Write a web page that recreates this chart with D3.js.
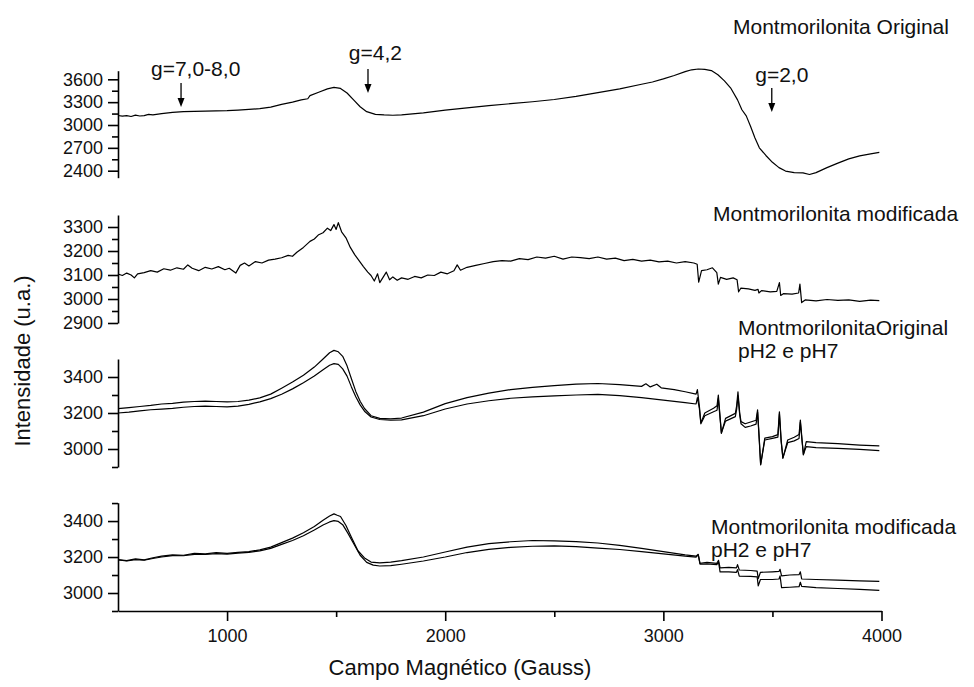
<!DOCTYPE html>
<html>
<head>
<meta charset="utf-8">
<script src="https://cdn.jsdelivr.net/npm/d3@7"></script>
<style>
  body { margin: 0; background: #fff; }
  text { font-family: Arial, "Liberation Sans", sans-serif; fill: #111; }
</style>
</head>
<body>
<div class="chart"></div>
<script>
// field (Gauss) / intensity pairs
const original = [
  [500,3125],[520,3116],[540,3122],[560,3112],[580,3130],[600,3118],[620,3124],[640,3140],[660,3132],
  [700,3150],[750,3165],[800,3175],[850,3180],[900,3182],[950,3185],[1000,3188],[1050,3195],
  [1100,3205],[1150,3215],[1200,3235],[1250,3270],[1300,3300],[1340,3330],[1370,3345],[1380,3385],
  [1420,3430],[1460,3475],[1490,3495],[1520,3480],[1550,3420],[1580,3330],[1610,3240],[1640,3175],
  [1680,3140],[1720,3132],[1760,3128],[1800,3132],[1900,3160],[2000,3195],[2100,3225],[2200,3255],
  [2300,3280],[2400,3305],[2500,3335],[2600,3375],[2700,3425],[2800,3475],[2900,3535],[2950,3565],
  [3000,3605],[3050,3650],[3100,3700],[3130,3725],[3160,3735],[3190,3730],[3220,3715],[3250,3660],
  [3280,3580],[3310,3480],[3340,3330],[3360,3200],[3380,3120],[3400,2980],[3420,2830],[3440,2700],
  [3470,2600],[3500,2510],[3530,2440],[3560,2395],[3600,2375],[3640,2372],[3670,2350],[3700,2375],
  [3750,2440],[3800,2500],[3850,2555],[3900,2595],[3950,2620],[3990,2640]
];

const modificada = [
  [500,3104],[520,3098],[540,3108],[560,3100],[575,3088],[590,3105],[620,3110],[650,3118],[680,3112],
  [710,3126],[740,3120],[770,3130],[800,3124],[820,3142],[840,3128],[870,3118],[900,3132],[930,3125],
  [960,3135],[990,3122],[1010,3128],[1040,3108],[1060,3140],[1080,3150],[1100,3138],[1130,3156],
  [1160,3150],[1190,3162],[1220,3166],[1250,3172],[1280,3182],[1300,3178],[1320,3195],[1350,3215],
  [1380,3240],[1400,3250],[1420,3268],[1440,3276],[1460,3295],[1475,3285],[1490,3310],[1500,3290],
  [1510,3318],[1525,3280],[1545,3255],[1565,3215],[1585,3185],[1605,3160],[1625,3135],[1645,3112],
  [1660,3098],[1675,3075],[1690,3105],[1700,3068],[1715,3090],[1730,3112],[1745,3080],[1760,3092],
  [1780,3078],[1800,3088],[1830,3082],[1860,3094],[1890,3088],[1920,3100],[1950,3098],[1980,3112],
  [2010,3105],[2040,3118],[2055,3142],[2070,3120],[2100,3132],[2140,3140],[2180,3148],[2220,3156],
  [2260,3160],[2300,3158],[2340,3168],[2380,3164],[2420,3175],[2460,3170],[2500,3178],[2540,3166],
  [2580,3175],[2620,3172],[2660,3168],[2700,3175],[2740,3166],[2780,3170],[2820,3160],[2860,3165],
  [2900,3158],[2940,3162],[2980,3155],[3020,3158],[3060,3150],[3100,3156],[3140,3150],[3155,3145],
  [3162,3070],[3175,3118],[3200,3122],[3225,3130],[3245,3110],[3252,3062],[3262,3090],[3290,3082],
  [3320,3088],[3338,3080],[3345,3030],[3355,3045],[3390,3042],[3420,3036],[3434,3040],[3438,3025],
  [3450,3035],[3490,3030],[3520,3032],[3532,3068],[3538,3015],[3550,3022],[3590,3020],[3620,3025],
  [3626,3062],[3634,2985],[3650,2996],[3700,2992],[3750,2998],[3800,2994],[3850,2996],[3900,2990],
  [3950,2995],[3990,2993]
];

const originalPhA = [
  [500,3224],[550,3230],[600,3236],[650,3242],[700,3250],[750,3254],[800,3260],[850,3264],[900,3266],
  [950,3264],[1000,3262],[1050,3264],[1100,3272],[1150,3284],[1200,3305],[1250,3338],[1300,3372],
  [1350,3410],[1400,3455],[1440,3500],[1470,3535],[1490,3548],[1510,3540],[1530,3515],[1550,3462],
  [1570,3390],[1590,3320],[1610,3265],[1630,3225],[1660,3185],[1700,3170],[1750,3168],[1800,3172],
  [1900,3205],[2000,3252],[2100,3285],[2200,3310],[2300,3330],[2400,3342],[2500,3352],[2600,3360],
  [2700,3364],[2800,3358],[2900,3348],[2920,3362],[2940,3345],[2970,3360],[2990,3340],[3050,3330],
  [3100,3318],[3150,3305],[3156,3330],[3165,3240],[3172,3145],[3190,3200],[3230,3226],[3246,3240],
  [3252,3300],[3260,3180],[3266,3087],[3285,3170],[3330,3198],[3336,3240],[3342,3318],[3350,3200],
  [3356,3152],[3375,3140],[3400,3150],[3425,3160],[3432,3217],[3440,3050],[3446,2911],[3465,3060],
  [3500,3069],[3525,3080],[3532,3207],[3540,3050],[3548,2948],[3570,3050],[3600,3065],[3622,3080],
  [3628,3161],[3636,3050],[3642,2967],[3655,3041],[3700,3035],[3800,3030],[3900,3022],[3990,3017]
];

const originalPhB = [
  [500,3200],[550,3205],[600,3212],[650,3218],[700,3222],[750,3226],[800,3232],[850,3236],[900,3238],
  [950,3236],[1000,3234],[1050,3238],[1100,3248],[1150,3262],[1200,3280],[1250,3304],[1300,3334],
  [1350,3368],[1400,3405],[1440,3440],[1470,3465],[1490,3474],[1510,3470],[1530,3445],[1550,3405],
  [1570,3345],[1590,3290],[1610,3245],[1630,3210],[1660,3178],[1700,3164],[1750,3160],[1800,3162],
  [1900,3185],[2000,3222],[2100,3250],[2200,3268],[2300,3282],[2400,3290],[2500,3295],[2600,3300],
  [2700,3303],[2800,3296],[2900,3285],[3000,3272],[3100,3258],[3150,3250],[3156,3285],[3165,3225],
  [3172,3140],[3190,3185],[3230,3207],[3246,3215],[3252,3280],[3260,3170],[3266,3090],[3285,3155],
  [3330,3180],[3336,3220],[3342,3295],[3350,3190],[3356,3140],[3375,3120],[3400,3128],[3425,3138],
  [3432,3205],[3440,3040],[3446,2915],[3465,3050],[3500,3059],[3525,3066],[3532,3195],[3540,3040],
  [3548,2952],[3570,3035],[3600,3045],[3622,3058],[3628,3150],[3636,3040],[3642,2970],[3655,3013],
  [3700,3008],[3800,3003],[3900,2998],[3990,2991]
];

const modificadaPhA = [
  [500,3186],[540,3180],[580,3190],[620,3184],[660,3196],[700,3205],[750,3212],[800,3210],[850,3220],
  [900,3218],[950,3224],[1000,3220],[1050,3226],[1100,3230],[1150,3240],[1200,3255],[1250,3280],
  [1300,3305],[1350,3335],[1400,3370],[1440,3405],[1470,3428],[1490,3440],[1505,3432],[1520,3425],
  [1545,3375],[1570,3310],[1600,3235],[1630,3195],[1660,3172],[1700,3168],[1750,3172],[1800,3180],
  [1900,3200],[2000,3228],[2100,3255],[2200,3274],[2300,3285],[2400,3292],[2500,3290],[2600,3286],
  [2700,3278],[2800,3265],[2900,3248],[3000,3230],[3100,3212],[3150,3205],[3160,3215],[3168,3165],
  [3200,3170],[3245,3165],[3253,3182],[3260,3140],[3300,3142],[3335,3140],[3340,3158],[3348,3128],
  [3400,3125],[3430,3122],[3435,3080],[3445,3115],[3500,3118],[3530,3120],[3535,3132],[3542,3095],
  [3580,3100],[3622,3102],[3628,3118],[3634,3078],[3700,3075],[3800,3072],[3900,3068],[3990,3065]
];

const modificadaPhB = [
  [500,3184],[540,3178],[580,3186],[620,3182],[660,3192],[700,3200],[750,3208],[800,3207],[850,3215],
  [900,3214],[950,3219],[1000,3216],[1050,3222],[1100,3226],[1150,3234],[1200,3248],[1250,3270],
  [1300,3292],[1350,3318],[1400,3350],[1440,3378],[1470,3395],[1490,3402],[1510,3398],[1530,3380],
  [1555,3330],[1580,3275],[1610,3210],[1640,3170],[1670,3155],[1700,3150],[1750,3152],[1800,3160],
  [1900,3178],[2000,3200],[2100,3225],[2200,3243],[2300,3254],[2400,3260],[2500,3262],[2600,3258],
  [2700,3250],[2800,3242],[2900,3230],[3000,3218],[3100,3205],[3150,3200],[3160,3212],[3168,3160],
  [3200,3162],[3245,3158],[3253,3172],[3260,3118],[3300,3118],[3335,3115],[3340,3130],[3348,3094],
  [3400,3092],[3430,3090],[3435,3040],[3445,3075],[3500,3075],[3530,3078],[3535,3095],[3542,3030],
  [3580,3032],[3622,3035],[3628,3060],[3634,3037],[3700,3030],[3800,3025],[3900,3020],[3990,3015]
];

const xTicks = [1000, 2000, 3000, 4000];
const xMinor = [1500, 2500, 3500];
const yTicks1 = [2400, 2700, 3000, 3300, 3600];
const yTicks2 = [2900, 3000, 3100, 3200, 3300];
const yTicks3 = [3000, 3200, 3400];
const yTicks4 = [3000, 3200, 3400];

const labels1 = ["Montmorilonita Original"];
const labels2 = ["Montmorilonita modificada"];
const labels3 = ["MontmorilonitaOriginal", "pH2 e pH7"];
const labels4 = ["Montmorilonita modificada", "pH2 e pH7"];

// g-factor marks on the top trace: text field, arrow field, text / arrow tail / arrow tip intensity
const gLabels = ["g=7,0-8,0", "g=4,2", "g=2,0"];
const gTextField = [856, 1680, 3543];
const gArrowField = [789, 1646, 3497];
const gTextVal = [3643, 3852, 3564];
const gTailVal = [3552, 3735, 3486];
const gTipVal = [3236, 3420, 3170];

const width = 974, height = 687;
const svg = d3.select('.chart').append('svg')
  .attr('width', width).attr('height', height);

const x = d3.scaleLinear().domain([500, 4000]).range([118, 881.5]);

const panels = [
  { series: [original], domain: [2308, 3713], range: [177.7, 70.7], ticks: yTicks1, minorStep: 150,
    labels: labels1, lx: 733, ly: 34 },
  { series: [modificada], domain: [2900, 3350], range: [323, 215], ticks: yTicks2, minorStep: 50,
    labels: labels2, lx: 713, ly: 221 },
  { series: [originalPhA, originalPhB], domain: [2900, 3500], range: [467, 359], ticks: yTicks3, minorStep: 100,
    labels: labels3, lx: 738, ly: 335 },
  { series: [modificadaPhA, modificadaPhB], domain: [2900, 3502], range: [611, 502.7], ticks: yTicks4, minorStep: 100,
    labels: labels4, lx: 711, ly: 534 }
];

const line = d3.line().curve(d3.curveLinear);

panels.forEach((p, i) => {
  const y = d3.scaleLinear().domain(p.domain).range(p.range);
  p.y = y;
  const minor = d3.range(Math.ceil(p.domain[0] / p.minorStep) * p.minorStep, p.domain[1], p.minorStep)
    .filter(v => !p.ticks.includes(v));

  const g = svg.append('g');
  g.append('g')
    .attr('transform', `translate(${x.range()[0]},0)`)
    .call(d3.axisLeft(y).tickValues(minor).tickSize(6).tickSizeOuter(0).tickFormat(''))
    .call(a => a.select('.domain').remove());
  const ax = g.append('g')
    .attr('transform', `translate(${x.range()[0]},0)`)
    .call(d3.axisLeft(y).tickValues(p.ticks).tickSize(10).tickSizeOuter(0).tickPadding(5).tickFormat(d3.format('d')));
  ax.selectAll('text').style('font-size', '18px').attr('fill', '#111');

  p.series.forEach(s => {
    g.append('path')
      .datum(s)
      .attr('fill', 'none')
      .attr('stroke', '#000')
      .attr('stroke-width', 1.2)
      .attr('stroke-linejoin', 'round')
      .attr('d', line.x(d => x(d[0])).y(d => y(d[1])));
  });

  p.labels.forEach((t, k) => {
    svg.append('text')
      .attr('x', p.lx)
      .attr('y', p.ly + k * 23)
      .style('font-size', '21px')
      .text(t);
  });
});

// bottom x axis
const xa = svg.append('g').attr('transform', `translate(0,${panels[3].range[0]})`);
xa.call(d3.axisBottom(x).tickValues(xTicks).tickSize(10).tickSizeOuter(0).tickPadding(8).tickFormat(d3.format('d')));
xa.selectAll('text').style('font-size', '18px').attr('fill', '#111');
const xm = svg.append('g').attr('transform', `translate(0,${panels[3].range[0]})`);
xm.call(d3.axisBottom(x).tickValues(xMinor).tickSize(6).tickSizeOuter(0).tickFormat(''))
  .call(a => a.select('.domain').remove());
svg.selectAll('.domain, .tick line').attr('stroke', '#000').attr('stroke-width', 1.6);

// g markers
const y1 = panels[0].y;
gLabels.forEach((t, i) => {
  svg.append('text')
    .attr('x', x(gTextField[i]))
    .attr('y', y1(gTextVal[i]))
    .attr('text-anchor', 'middle')
    .style('font-size', '21px')
    .text(t);
  const ax0 = x(gArrowField[i]);
  const tip = y1(gTipVal[i]);
  svg.append('line')
    .attr('x1', ax0).attr('x2', ax0)
    .attr('y1', y1(gTailVal[i])).attr('y2', tip - 6)
    .attr('stroke', '#000').attr('stroke-width', 1.3);
  svg.append('path')
    .attr('d', `M${ax0 - 3.5},${tip - 9}L${ax0 + 3.5},${tip - 9}L${ax0},${tip}Z`)
    .attr('fill', '#000');
});

// axis titles
svg.append('text')
  .attr('x', 460).attr('y', 675)
  .attr('text-anchor', 'middle')
  .style('font-size', '22px')
  .text('Campo Magnético (Gauss)');
svg.append('text')
  .attr('transform', 'translate(30,361) rotate(-90)')
  .attr('text-anchor', 'middle')
  .style('font-size', '22px')
  .text('Intensidade (u.a.)');
</script>
</body>
</html>
